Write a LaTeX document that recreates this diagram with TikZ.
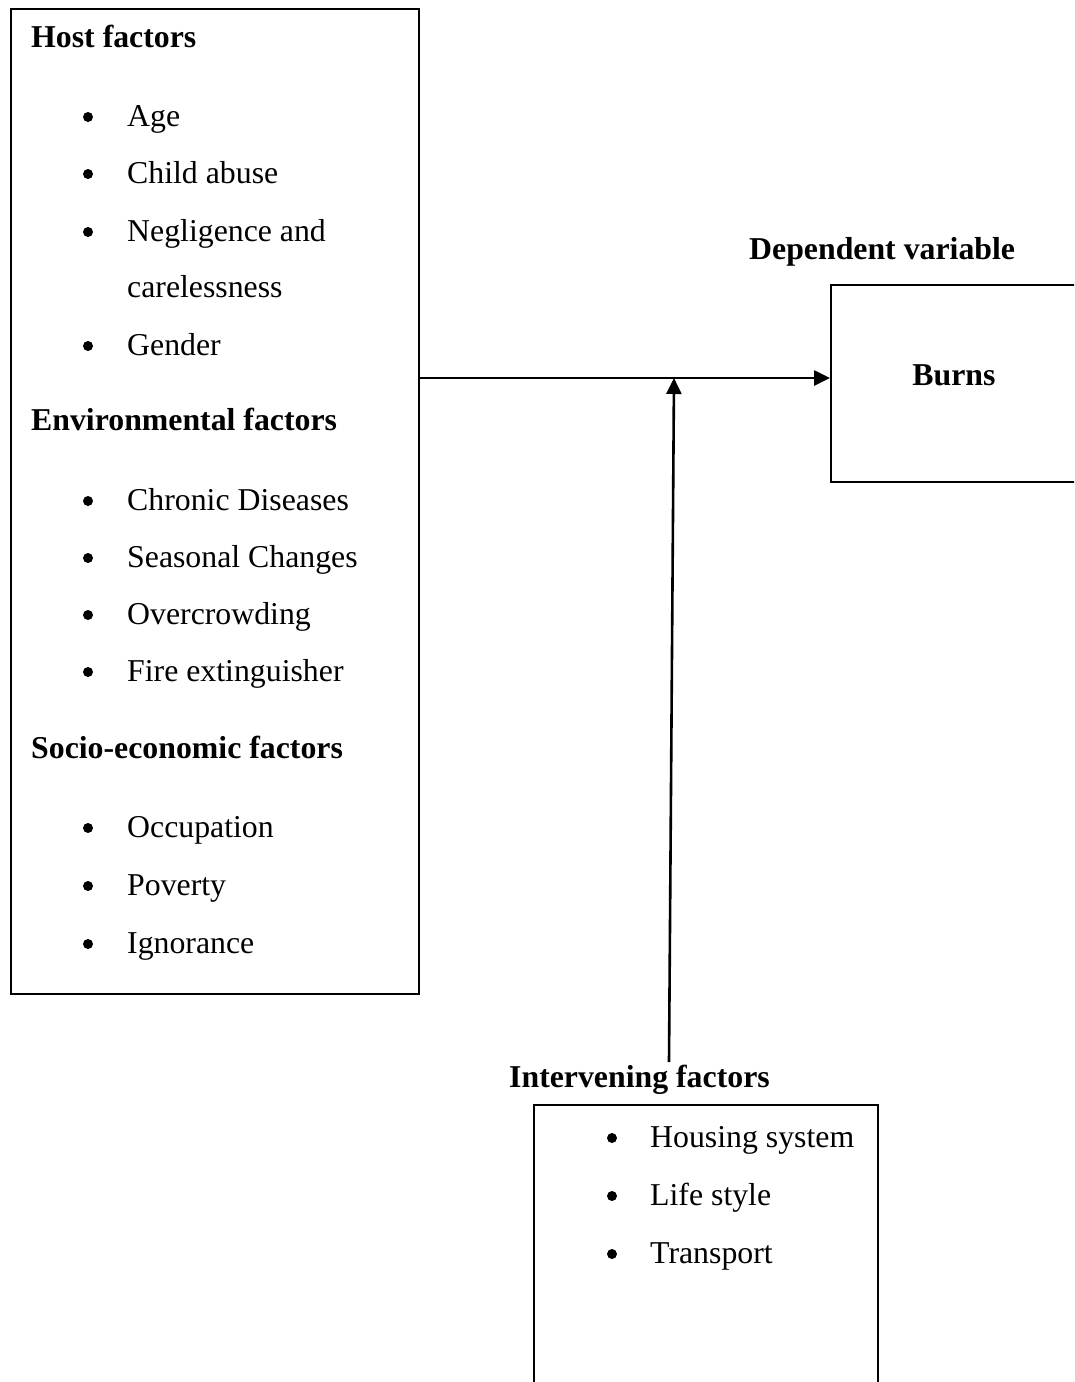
\documentclass[tikz,border=0pt]{standalone}
\usepackage{fontspec}
\setmainfont{Liberation Serif}
\usetikzlibrary{arrows.meta}
\begin{document}
\begin{tikzpicture}[x=1pt,y=-1pt,
  box/.style={draw,line width=2pt,inner sep=0pt,anchor=north west},
  head/.style={anchor=base west,inner sep=0pt,font=\fontsize{31.8}{36}\selectfont\bfseries},
  item/.style={anchor=base west,inner sep=0pt,font=\fontsize{31.8}{36}\selectfont},
  dot/.style={circle,fill=black,inner sep=0pt,minimum size=10pt},
  arr/.style={line width=2.6pt,-{Triangle[length=16pt,width=15pt]}}]
\useasboundingbox (0,0) rectangle (1074,1382);
\clip (0,0) rectangle (1074,1382);
\fill[white] (0,0) rectangle (1074,1382);
% boxes
\node[box,minimum width=408pt,minimum height=985pt] (host) at (10,8) {};
\node[box,minimum width=300pt,minimum height=197pt] (burns) at (830,284) {};
\node[box,minimum width=344pt,minimum height=320pt] (inter) at (533,1104) {};
% left box texts
\node[head] (h1) at (31,47) {Host factors};
\foreach \n/\y/\t in {a1/126/Age,a2/183/Child abuse,a3/241/Negligence and,a5/355/Gender,
  b1/510/Chronic Diseases,b2/567/Seasonal Changes,b3/624/Overcrowding,b4/681/Fire extinguisher,
  c1/837/Occupation,c2/895/Poverty,c3/953/Ignorance}{
  \node[item] (\n) at (127,\y) {\t};
  \node[dot] (d\n) at (88,\y-9) {};
}
\node[item] (a4) at (127,297) {carelessness};
\node[head] (h2) at (31,430) {Environmental factors};
\node[head] (h3) at (31,758) {Socio-economic factors};
% right texts
\node[head] (dep) at (749,259) {Dependent variable};
\node[head,anchor=base] (burnst) at (954,385) {Burns};
\node[head] (intt) at (509,1087) {Intervening factors};
\foreach \n/\y/\t in {i1/1147/Housing system,i2/1205/Life style,i3/1263/Transport}{
  \node[item] (\n) at (650,\y) {\t};
  \node[dot] (d\n) at (612,\y-9) {};
}
% connectors
\coordinate (j) at (674,378);
\coordinate (bot) at (669,1062);
\coordinate (hs) at (host.north east |- j);
\coordinate (be) at (burns.north west |- j);
\draw[arr] (hs) -- (be);
\draw[arr] (bot) -- (j);
\end{tikzpicture}
\end{document}
